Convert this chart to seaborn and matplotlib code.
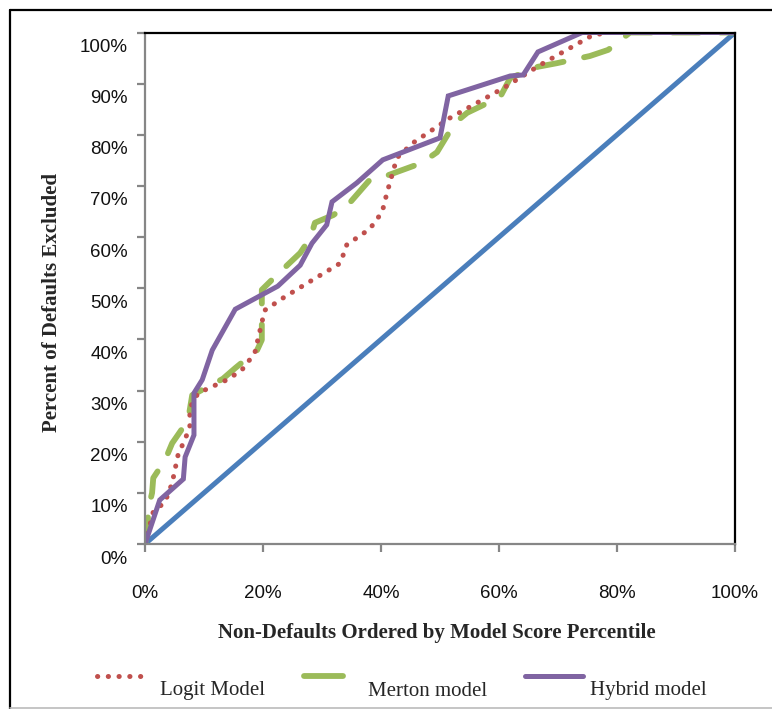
import matplotlib
matplotlib.use("Agg")
import matplotlib.pyplot as plt
import matplotlib.transforms as mtransforms
from matplotlib.lines import Line2D
import seaborn as sns

# Cumulative accuracy profile values (percent)
logit_x = [0, 1.4, 3.4, 4.6, 5.6, 7.6, 7.6, 9.0, 13.9, 16.4, 18.6, 19.5, 20.3, 23.4,
           27.5, 33.1, 34.2, 38.1, 40.2, 41.0, 42.7, 45.4, 51.7, 60.7, 66.9, 75.9, 78.8, 100]
logit_y = [0, 6.3, 8.2, 11.9, 17.4, 22.7, 26.6, 29.5, 32.1, 34.0, 37.3, 41.8, 45.7, 48.1,
           51.0, 54.9, 58.5, 61.6, 64.9, 68.6, 75.5, 78.4, 83.3, 89.1, 93.6, 99.5, 100, 100]

merton_x = [0, 0.5, 0.5, 1.2, 1.4, 3.4, 4.6, 7.3, 8.0, 13.2, 15.3, 19.0, 19.8, 19.8, 22.0,
            26.3, 28.0, 28.8, 31.9, 34.4, 38.1, 41.2, 46.9, 49.5, 52.5, 54.6, 60.2, 61.9,
            66.6, 69.8, 75.4, 78.5, 82.2, 100]
merton_y = [0, 3.3, 6.6, 10.0, 12.9, 16.4, 19.7, 24.2, 29.1, 32.3, 34.4, 37.9, 39.9, 49.7,
            52.2, 56.9, 59.8, 62.8, 64.3, 66.3, 71.2, 72.1, 74.5, 76.6, 82.3, 84.3, 87.4,
            91.1, 93.3, 94.0, 95.4, 96.6, 100, 100]

hybrid_x = [0, 2.5, 6.5, 6.8, 8.3, 8.3, 9.7, 11.4, 15.3, 22.5, 26.3, 28.3, 30.8, 31.7,
            35.9, 40.3, 50.0, 51.4, 61.9, 64.1, 66.6, 74.1, 100]
hybrid_y = [0, 8.6, 12.7, 17.0, 21.3, 29.5, 32.1, 37.9, 45.9, 50.4, 54.5, 58.8, 62.4, 66.9,
            70.6, 75.1, 79.4, 87.6, 91.5, 91.7, 96.2, 100, 100]

random_x = [0, 100]
random_y = [0, 100]

x_ticks = [0, 20, 40, 60, 80, 100]
y_ticks = [0, 10, 20, 30, 40, 50, 60, 70, 80, 90, 100]
series_names = ["Logit Model", "Merton model", "Hybrid model"]

RED = "#C0504D"
GREEN = "#9BBB59"
PURPLE = "#8064A2"
BLUE = "#4A7EBB"
GREY = "#868686"

DOTS = [0.05, 2.1]
DASHES = [4.6, 3.6]

sns.set_theme(style="white")
plt.rcParams["font.family"] = ["Liberation Sans", "DejaVu Sans"]

W, H = 772, 709
fig = plt.figure(figsize=(W / 100, H / 100), dpi=100)
ax = fig.add_axes([145 / W, 1 - 544 / H, 590 / W, (544 - 32.5) / H])


def px(x, y):
    """Convert pixel position (from top-left) to figure fraction."""
    return x / W, 1 - y / H


# diagonal (random model)
sns.lineplot(x=random_x, y=random_y, ax=ax, color=BLUE, linewidth=3.6,
             sort=False, estimator=None, solid_capstyle="round")
# Merton
sns.lineplot(x=merton_x, y=merton_y, ax=ax, color=GREEN, linewidth=4.2,
             sort=False, estimator=None)
ax.lines[-1].set_dashes(DASHES)
ax.lines[-1].set_dash_capstyle("round")
# Logit
sns.lineplot(x=logit_x, y=logit_y, ax=ax, color=RED, linewidth=3.6,
             sort=False, estimator=None)
ax.lines[-1].set_dashes(DOTS)
ax.lines[-1].set_dash_capstyle("round")
# Hybrid
sns.lineplot(x=hybrid_x, y=hybrid_y, ax=ax, color=PURPLE, linewidth=3.6,
             sort=False, estimator=None)
ax.lines[-1].set_solid_joinstyle("miter")

ax.set_xlim(0, 100)
ax.set_ylim(0, 100)
ax.set_xticks(x_ticks)
ax.set_yticks(y_ticks)
ax.set_xticklabels([f"{v}%" for v in x_ticks])
ax.set_yticklabels([f"{v}%" for v in y_ticks])

for side in ("left", "bottom"):
    ax.spines[side].set_color(GREY)
    ax.spines[side].set_linewidth(1.6)
for side in ("top", "right"):
    ax.spines[side].set_color("black")
    ax.spines[side].set_linewidth(1.6)

ax.tick_params(axis="both", which="major", direction="out", length=5.5, width=1.6,
               color=GREY, labelsize=13.5, labelcolor="#111111")
ax.tick_params(axis="x", pad=24, bottom=True)
ax.tick_params(axis="y", pad=7, left=True)
ax.grid(False)

# y tick labels sit a little below their ticks
shift = mtransforms.ScaledTranslation(0, -13 / 100, fig.dpi_scale_trans)
for lab in ax.get_yticklabels():
    lab.set_transform(lab.get_transform() + shift)

serif = ["Liberation Serif", "DejaVu Serif"]
fig.text(*px(437, 633), "Non-Defaults Ordered by Model Score Percentile",
         family=serif, fontweight="bold", fontsize=15, ha="center", va="center")
fig.text(*px(52, 302), "Percent of Defaults Excluded", family=serif,
         fontweight="bold", fontsize=15, ha="center", va="center", rotation=90)

# legend row beneath the axis title
legend_items = [
    (series_names[0], RED, 3.6, DOTS, (97, 148), 160),
    (series_names[1], GREEN, 4.2, None, (304, 343), 368),
    (series_names[2], PURPLE, 3.6, None, (525, 583), 590),
]
for name, col, lw, dashes, (x0, x1), tx in legend_items:
    (fx0, fy), (fx1, _) = px(x0, 676), px(x1, 676)
    ln = Line2D([fx0, fx1], [fy, fy], transform=fig.transFigure, color=col,
                linewidth=lw, solid_capstyle="round", dash_capstyle="round")
    if dashes:
        ln.set_dashes(dashes)
    fig.add_artist(ln)
    fig.text(*px(tx, 691), name, family=serif, fontsize=15, ha="left", va="center")

# outer frame
fig.add_artist(Line2D([10 / W, 1], [1 - 10 / H] * 2, transform=fig.transFigure,
                      color="black", linewidth=1.6))
fig.add_artist(Line2D([10 / W] * 2, [0, 1 - 10 / H], transform=fig.transFigure,
                      color="black", linewidth=1.6))
fig.add_artist(Line2D([10 / W, 1], [1 - 707.5 / H] * 2, transform=fig.transFigure,
                      color="#BBBBBB", linewidth=1.2))

fig.savefig("out.png", dpi=100, facecolor="white")
